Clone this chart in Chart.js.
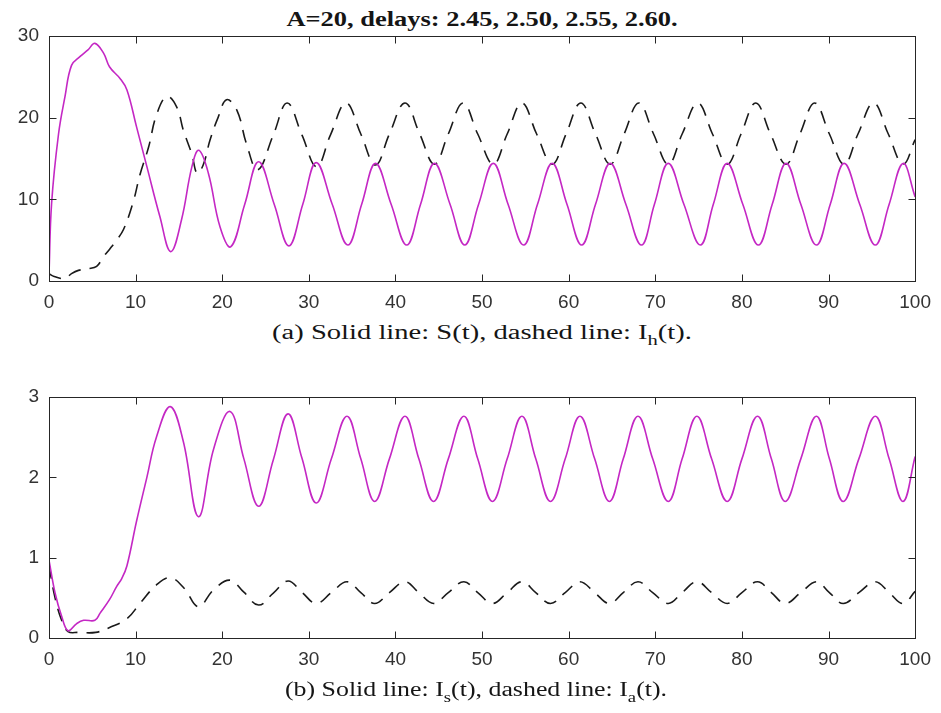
<!DOCTYPE html>
<html>
<head>
<meta charset="utf-8">
<script src="https://cdn.jsdelivr.net/npm/chart.js@4.4.1/dist/chart.umd.min.js"></script>
<style>
  body { margin: 0; background: #fff; width: 941px; height: 713px; position: relative; overflow: hidden; }
  .plot { position: absolute; left: 0; width: 941px; height: 320px; }
  .txt { position: absolute; white-space: nowrap; font-family: 'Liberation Serif', 'Times New Roman', serif; color: #151515; line-height: 20px; }
  .sb { font-size: 0.72em; position: relative; top: 0.45em; }
</style>
</head>
<body>
<div class="txt" id="title" data-w="391" style="left:482px; top:9px; font-size:20px; font-weight:bold;">A=20, delays: 2.45, 2.50, 2.55, 2.60.</div>
<div class="plot" style="top:0px;"><canvas id="top"></canvas></div>
<div class="txt" id="capA" data-w="420" style="left:482px; top:322px; font-size:20px;">(a) Solid line: S(t), dashed line: I<span class="sb">h</span>(t).</div>
<div class="plot" style="top:360px;"><canvas id="bottom"></canvas></div>
<div class="txt" id="capB" data-w="382" style="left:476px; top:679px; font-size:20px;">(b) Solid line: I<span class="sb">s</span>(t), dashed line: I<span class="sb">a</span>(t).</div>
<script>
// (a) S(t), solid
const sT = [0, 0.3, 1.1, 1.85, 2.6, 3.6, 4.5, 5.3, 6.3, 7.0, 8.2, 9.0, 10.1, 11.3, 12.8, 14.05, 15.3, 16.5, 17.3, 18.4, 19.75, 21.0,
  22.6, 24.2, 26.0, 27.7, 29.3, 30.85, 32.7, 34.5, 36.1, 37.7, 39.5, 41.3, 42.9, 44.5, 46.3, 48.0, 49.6, 51.3, 53.0, 54.8,
  56.4, 58.1, 59.8, 61.5, 63.1, 64.8, 66.6, 68.4, 69.9, 71.5, 73.3, 75.2, 76.7, 78.3, 80.1, 81.9, 83.5, 85.1, 86.8, 88.6,
  90.2, 91.8, 93.6, 95.4, 97.0, 98.6, 100];
const sY = [0.8, 9.5, 18, 22.6, 26.4, 27.5, 28.3, 29.1, 27.9, 26.2, 24.8, 23.4, 18.9, 14.0, 7.9, 3.6, 7.5, 14.0, 16.0, 13.2, 6.6, 4.2,
  9.4, 14.6, 9.4, 4.3, 9.4, 14.5, 9.4, 4.4, 9.4, 14.4, 9.4, 4.4, 9.4, 14.4, 9.4, 4.4, 9.4, 14.4, 9.4, 4.4,
  9.4, 14.4, 9.4, 4.4, 9.4, 14.4, 9.4, 4.4, 9.4, 14.4, 9.4, 4.4, 9.4, 14.4, 9.4, 4.4, 9.4, 14.4, 9.4, 4.4,
  9.4, 14.4, 9.4, 4.4, 9.4, 14.4, 10.3];

// (a) I_h(t), dashed
const hT = [0, 0.6, 1.85, 2.6, 3.4, 4.5, 5.5, 6.3, 7.0, 7.8, 8.6, 9.7, 10.5, 11.5, 12.4, 13.6, 14.75, 15.5, 16.5, 17.1, 17.8,
  18.6, 19.55, 20.5, 21.7, 22.8, 24.1, 25.9, 27.5, 29.2, 30.9, 32.5, 34.3, 36.0, 37.7, 39.3, 41.1, 42.8, 44.5, 46.1, 47.8,
  49.5, 51.3, 52.9, 54.6, 56.3, 58.1, 59.7, 61.4, 63.1, 64.8, 66.4, 68.1, 69.8, 71.5, 73.1, 74.9, 76.6, 78.3, 79.9, 81.6,
  83.3, 85.1, 86.7, 88.4, 90.1, 91.8, 93.4, 95.2, 96.9, 98.6, 100];
const hY = [0.9, 0.55, 0.3, 0.9, 1.3, 1.5, 1.8, 3.0, 3.9, 5.0, 6.3, 9.6, 13.0, 16.4, 20.3, 22.6, 21.3, 18.5, 15.5, 13.2, 14.2,
  17.3, 20.1, 22.2, 20.9, 16.8, 13.6, 17.9, 21.8, 17.9, 14.0, 17.9, 21.8, 18.0, 14.2, 18.0, 21.8, 18.0, 14.3, 18.0, 21.8,
  18.0, 14.3, 18.0, 21.8, 18.0, 14.3, 18.0, 21.8, 18.0, 14.3, 18.0, 21.8, 18.0, 14.3, 18.0, 21.8, 18.0, 14.3, 18.0, 21.8,
  18.0, 14.3, 18.0, 21.8, 18.0, 14.3, 18.0, 21.8, 18.0, 14.3, 17.3];

// (b) I_s(t), solid
const isT = [0, 0.7, 1.46, 2.2, 3.2, 4.0, 5.3, 5.9, 7.0, 7.8, 8.4, 9.0, 10.1, 11.3, 12.4, 14.0, 15.5, 17.25, 19.0, 20.9, 22.5,
  24.2, 25.9, 27.6, 29.2, 30.85, 32.6, 34.4, 36.0, 37.6, 39.3, 41.1, 42.7, 44.4, 46.1, 47.9, 49.5, 51.2, 52.9, 54.6, 56.2,
  57.9, 59.6, 61.3, 63.0, 64.7, 66.3, 68.0, 69.7, 71.5, 73.1, 74.8, 76.5, 78.3, 80.0, 81.8, 83.4, 85.0, 86.8, 88.6, 90.1,
  91.7, 93.5, 95.4, 97.0, 98.6, 100];
const isY = [0.97, 0.56, 0.27, 0.09, 0.18, 0.22, 0.22, 0.31, 0.48, 0.64, 0.74, 0.9, 1.45, 2.0, 2.5, 2.88, 2.45, 1.51, 2.35, 2.82, 2.23,
  1.64, 2.22, 2.79, 2.24, 1.68, 2.23, 2.76, 2.23, 1.70, 2.23, 2.76, 2.23, 1.70, 2.23, 2.76, 2.23, 1.70, 2.23, 2.76, 2.23,
  1.70, 2.23, 2.76, 2.23, 1.70, 2.23, 2.76, 2.23, 1.70, 2.23, 2.76, 2.23, 1.70, 2.23, 2.76, 2.23, 1.70, 2.23, 2.76, 2.23,
  1.70, 2.23, 2.76, 2.23, 1.70, 2.26];

// (b) I_a(t), dashed
const iaT = [0, 0.7, 1.46, 2.2, 3.4, 5.4, 7.0, 9.0, 10.5, 12.4, 14.0, 15.6, 17.25, 19.0, 20.9, 22.5, 24.2, 25.9, 27.6, 29.2, 30.85,
  32.6, 34.4, 36.0, 37.6, 39.3, 41.1, 42.7, 44.4, 46.1, 47.9, 49.5, 51.2, 52.9, 54.6, 56.2, 57.9, 59.6, 61.3, 63.0, 64.7,
  66.3, 68.0, 69.7, 71.5, 73.1, 74.8, 76.5, 78.3, 80.0, 81.8, 83.4, 85.0, 86.8, 88.6, 90.1, 91.7, 93.5, 95.4, 97.0, 98.6, 100];
const iaY = [0.9, 0.5, 0.22, 0.08, 0.07, 0.07, 0.13, 0.24, 0.43, 0.66, 0.75, 0.62, 0.39, 0.6, 0.72, 0.57, 0.41, 0.56, 0.71, 0.57, 0.43,
  0.565, 0.7, 0.565, 0.43, 0.565, 0.7, 0.565, 0.43, 0.565, 0.7, 0.565, 0.43, 0.565, 0.7, 0.565, 0.43, 0.565, 0.7, 0.565, 0.43,
  0.565, 0.7, 0.565, 0.43, 0.565, 0.7, 0.565, 0.43, 0.565, 0.7, 0.565, 0.43, 0.565, 0.7, 0.565, 0.43, 0.565, 0.7, 0.565, 0.43, 0.58];

const magenta = 'rgb(196, 40, 196)';
const ink = '#262626';

const pts = (ts, ys) => ts.map((t, i) => ({ x: t, y: ys[i] }));

// matlab style box with inward ticks on all four sides
const boxTicks = {
  id: 'boxTicks',
  afterDraw(chart) {
    const { ctx, chartArea: a, scales } = chart;
    const L = Math.round(a.left) + 0.5, R = Math.round(a.right) + 0.5;
    const T = Math.round(a.top) + 0.5, B = Math.round(a.bottom) + 0.5;
    ctx.save();
    ctx.strokeStyle = ink;
    ctx.lineWidth = 1;
    ctx.strokeRect(L, T, R - L, B - T);
    ctx.beginPath();
    scales.x.ticks.forEach(t => {
      const p = Math.round(scales.x.getPixelForValue(t.value)) + 0.5;
      ctx.moveTo(p, B); ctx.lineTo(p, B - 7);
      ctx.moveTo(p, T); ctx.lineTo(p, T + 7);
    });
    scales.y.ticks.forEach(t => {
      const p = Math.round(scales.y.getPixelForValue(t.value)) + 0.5;
      ctx.moveTo(L, p); ctx.lineTo(L + 7, p);
      ctx.moveTo(R, p); ctx.lineTo(R - 7, p);
    });
    ctx.stroke();
    ctx.restore();
  }
};

function makePlot(id, solid, dashed, yMax, yStep, padTop, xAxisH) {
  return new Chart(document.getElementById(id), {
    type: 'line',
    data: {
      datasets: [
        { data: solid, borderColor: magenta, borderWidth: 1.6, pointRadius: 0, tension: 0.4 },
        { data: dashed, borderColor: '#1a1a1a', borderWidth: 1.6, borderDash: [13, 9], pointRadius: 0, tension: 0.4 }
      ]
    },
    options: {
      responsive: false,
      animation: false,
      events: [],
      layout: { padding: { top: padTop, right: 24, left: 0, bottom: 0 } },
      plugins: { legend: { display: false }, tooltip: { enabled: false } },
      scales: {
        x: {
          type: 'linear', min: 0, max: 100,
          ticks: { stepSize: 10, color: '#333', padding: 10, maxRotation: 0, font: { family: 'Liberation Sans, Arial, sans-serif', size: 19 } },
          grid: { display: false, drawTicks: false },
          border: { display: false },
          afterFit: s => { s.height = xAxisH; }
        },
        y: {
          type: 'linear', min: 0, max: yMax,
          ticks: { stepSize: yStep, color: '#333', padding: 10, font: { family: 'Liberation Sans, Arial, sans-serif', size: 19 } },
          grid: { display: false, drawTicks: false },
          border: { display: false },
          afterFit: s => { s.width = 49; }
        }
      }
    },
    plugins: [boxTicks]
  });
}

for (const c of document.querySelectorAll('canvas')) { c.width = 941; c.height = 320; }

makePlot('top', pts(sT, sY), pts(hT, hY), 30, 10, 36, 39);
makePlot('bottom', pts(isT, isY), pts(iaT, iaY), 3, 1, 37, 42);

// the source figure is stretched sideways; match the measured widths of its text lines
for (const el of document.querySelectorAll('.txt')) {
  const w = el.getBoundingClientRect().width;
  const k = Number(el.dataset.w) / w;
  el.style.transform = `translateX(-50%) scaleX(${k.toFixed(3)})`;
}
</script>
</body>
</html>
